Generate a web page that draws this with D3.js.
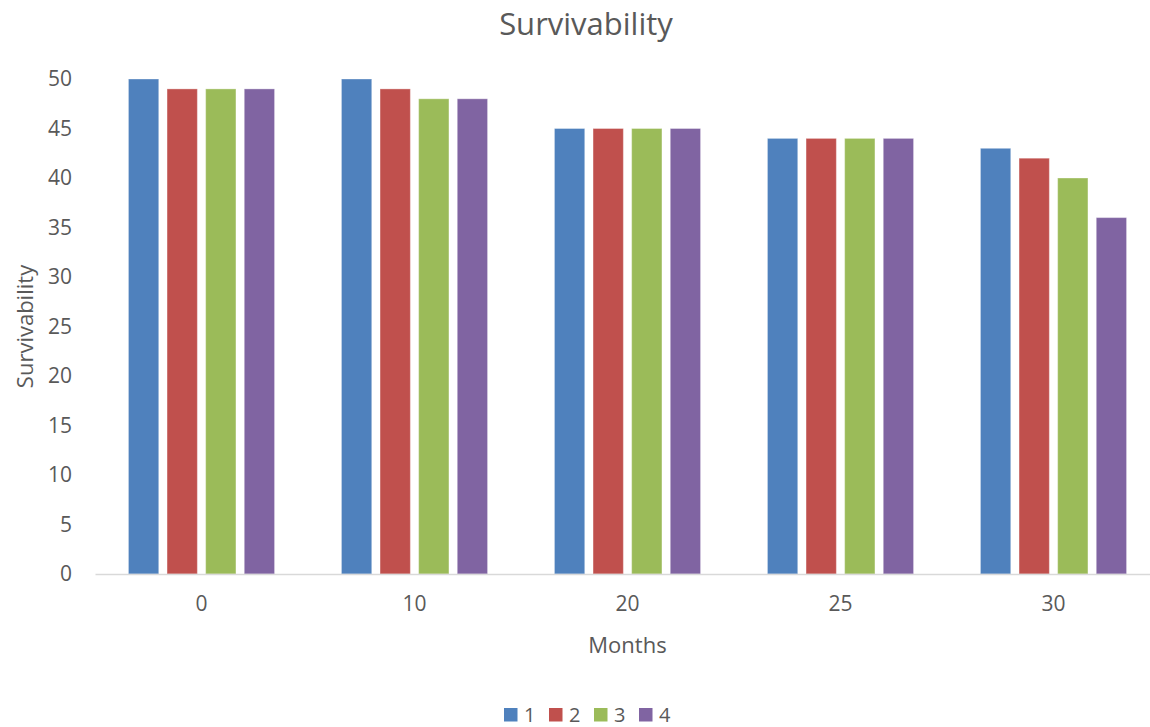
<!DOCTYPE html>
<html>
<head>
<meta charset="utf-8">
<script src="https://cdn.jsdelivr.net/npm/d3@7"></script>
<style>
  html, body { margin: 0; padding: 0; background: #fff; }
  svg { display: block; }
  text { font-family: "Open Sans", "Noto Sans", sans-serif; fill: #595959; }
</style>
</head>
<body>
<svg id="chart" width="1150" height="727"></svg>
<script>
// Survivability by month for four groups
const months = ["0", "10", "20", "25", "30"];
const seriesNames = ["1", "2", "3", "4"];
const series1 = [50, 50, 45, 44, 43];
const series2 = [49, 49, 45, 44, 42];
const series3 = [49, 48, 45, 44, 40];
const series4 = [49, 48, 45, 44, 36];
const yTicks = [0, 5, 10, 15, 20, 25, 30, 35, 40, 45, 50];
const colors = ["#4F81BD", "#C0504D", "#9BBB59", "#8064A2"];

const allSeries = [series1, series2, series3, series4];
const rows = months.map((m, i) => ({
  month: m,
  values: seriesNames.map((s, j) => ({ key: s, value: allSeries[j][i] }))
}));

const svg = d3.select("#chart");
const margin = { left: 95, right: -10, top: 79, bottom: 153 };
const W = 1150, H = 727;

const x0 = d3.scaleBand()
  .domain(months)
  .range([margin.left, W - margin.right])
  .paddingInner(0.314)
  .paddingOuter(0.157);

const x1 = d3.scaleBand()
  .domain(seriesNames)
  .range([0, x0.bandwidth()])
  .paddingInner(0.215);

const y = d3.scaleLinear()
  .domain([0, 50])
  .range([H - margin.bottom, margin.top]);

const color = d3.scaleOrdinal().domain(seriesNames).range(colors);

// Title
svg.append("text")
  .attr("x", 586)
  .attr("y", 35)
  .attr("text-anchor", "middle")
  .style("font-size", "31px")
  .text("Survivability");

// Y axis (labels only)
const yAxis = svg.append("g")
  .attr("transform", `translate(${margin.left},0)`)
  .call(d3.axisLeft(y).tickValues(yTicks).tickSize(0).tickPadding(23));
yAxis.select(".domain").remove();
yAxis.selectAll("text")
  .style("font-size", "21px")
  .style("fill", "#595959");

// Bars
const groups = svg.append("g")
  .selectAll("g")
  .data(rows)
  .join("g")
  .attr("transform", d => `translate(${x0(d.month)},0)`);

groups.selectAll("rect")
  .data(d => d.values)
  .join("rect")
  .attr("x", d => x1(d.key))
  .attr("width", x1.bandwidth())
  .attr("y", d => y(d.value))
  .attr("height", d => y(0) - y(d.value))
  .attr("fill", d => color(d.key))
  .attr("stroke", "#ffffff")
  .attr("stroke-opacity", 0.35)
  .attr("stroke-width", 1);

// X axis
const xAxis = svg.append("g")
  .attr("transform", `translate(0,${y(0)})`)
  .call(d3.axisBottom(x0).tickSize(0).tickPadding(22));
xAxis.select(".domain")
  .attr("stroke", "#d9d9d9")
  .attr("stroke-width", 1.5);
xAxis.selectAll("text")
  .style("font-size", "21px")
  .style("fill", "#595959");

// Axis titles
svg.append("text")
  .attr("x", x0(months[2]) + x0.bandwidth() / 2)
  .attr("y", 653)
  .attr("text-anchor", "middle")
  .style("font-size", "22px")
  .text("Months");

svg.append("text")
  .attr("transform", `translate(33,${(y(0) + y(50)) / 2}) rotate(-90)`)
  .attr("text-anchor", "middle")
  .style("font-size", "22px")
  .text("Survivability");

// Legend
const legend = svg.append("g")
  .selectAll("g")
  .data(seriesNames)
  .join("g")
  .attr("transform", (d, i) => `translate(${504 + i * 45},708)`);

legend.append("rect")
  .attr("width", 13.5)
  .attr("height", 13.5)
  .attr("fill", d => color(d));

legend.append("text")
  .attr("x", 20)
  .attr("y", 14)
  .style("font-size", "20px")
  .text(d => d);
</script>
</body>
</html>
